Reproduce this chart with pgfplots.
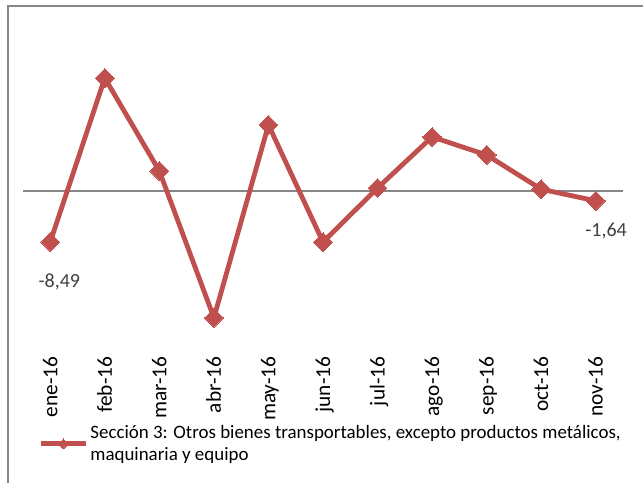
\documentclass[border=0pt]{standalone}
\usepackage{fontspec}
\setmainfont{Carlito}
\usepackage{pgfplots}
\pgfplotsset{compat=1.18}
\definecolor{serie}{HTML}{C0504D}
\definecolor{frame}{HTML}{868686}
\definecolor{lbl}{HTML}{404040}
\begin{document}
\begin{tikzpicture}[x=0.75pt,y=0.75pt]
\path[use as bounding box] (0,0) rectangle (643,483);
\draw[frame, line width=1.5pt] (8,0) -- (8,476.5) -- (650,476.5);
\begin{axis}[
  at={(17.25pt,107.25pt)}, anchor=south west,
  scale only axis, width=450pt, height=232.5pt,
  xmin=-0.5, xmax=10.5, ymin=-24.8, ymax=26.8,
  axis line style={draw=none},
  ytick=\empty,
  xtick={0,...,10},
  xticklabels={ene-16,feb-16,mar-16,abr-16,may-16,jun-16,jul-16,ago-16,sep-16,oct-16,nov-16},
  major tick length=0pt,
  xticklabel style={rotate=90, anchor=base east, font=\fontsize{16}{18}\selectfont, yshift=-5.25pt, xshift=-9pt},
  clip=false,
  legend style={at={(0.025,-0.265)}, anchor=north west, draw=none, fill=none, inner sep=0pt,
    font=\fontsize{14.2}{16.8}\selectfont, cells={align=left}, nodes={inner xsep=1.5pt}},
  legend image code/.code={\draw[#1, mark repeat=2, mark phase=2, mark size=2.6pt] plot coordinates {(0pt,0pt) (17pt,0pt) (34pt,0pt)};},
]
\draw[frame, line width=1.1pt] (axis cs:-0.5,0) -- (axis cs:10.5,0);
\addplot[serie, line width=3.6pt, mark=square*, mark size=5pt, mark options={rotate=45, line width=0pt}]
  coordinates {(0,-8.49) (1,18.8) (2,3.33) (3,-21.1) (4,11.0) (5,-8.5) (6,0.5) (7,9.0) (8,6.0) (9,0.3) (10,-1.64)};
\addlegendentry{Sección 3: Otros bienes transportables, excepto productos metálicos,\\maquinaria y equipo}
\node[lbl, font=\fontsize{15}{17}\selectfont] at (axis cs:0.165,-15.07) {-8,49};
\node[lbl, font=\fontsize{15}{17}\selectfont] at (axis cs:10.19,-6.66) {-1,64};
\end{axis}
\end{tikzpicture}
\end{document}
